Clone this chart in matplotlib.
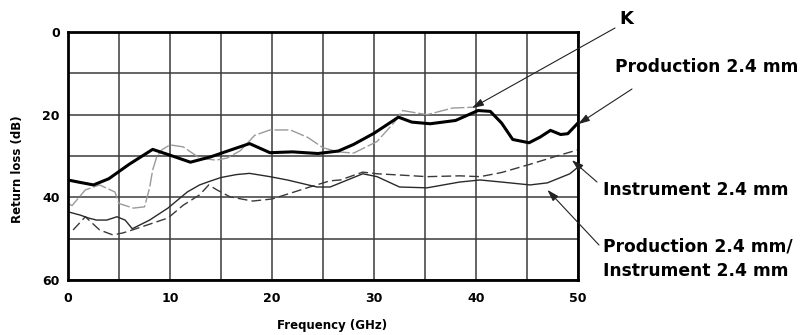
import matplotlib
matplotlib.use('Agg')
import matplotlib.pyplot as plt
from matplotlib.ticker import MultipleLocator

# --- data (return loss in dB, frequency in GHz) ---
prod_freq = [0, 1, 2.5, 4, 6, 8.3, 10, 12, 14, 16, 17.8, 19.8, 22, 24.5, 26.5,
             28, 30, 32.4, 33.7, 35.5, 38, 40.2, 41.4, 42.5, 43.6, 45.2, 46.3,
             47.3, 48.3, 49, 50]
prod_rl = [35.8, 36.3, 37, 35.5, 32, 28.4, 29.8, 31.5, 30.2, 28.5, 27, 29.2, 29,
           29.4, 28.8, 27.2, 24.5, 20.6, 21.8, 22.2, 21.4, 19, 19.2, 22, 26,
           26.8, 25.4, 23.8, 24.8, 24.6, 22]

k_freq = [0, 0.4, 1.7, 3.1, 4.6, 5, 6.4, 7.5, 8, 8.3, 8.7, 9.2, 10, 11.3, 12.9,
          14.5, 15.6, 16.9, 18.3, 19.8, 21.8, 23.5, 25, 26.5, 28, 30.3, 32,
          32.8, 35.2, 37.7, 39.7]
k_rl = [41.5, 42, 38.2, 37, 38.7, 41.5, 42.6, 42.3, 37.7, 33.4, 30.2, 28.5, 27.3,
        27.8, 30.5, 31, 30.5, 28.7, 25, 23.7, 23.7, 25.5, 28, 29, 29.3, 26.5,
        21.8, 19, 20, 18.4, 18.2]

instr_freq = [0.5, 1.7, 3.1, 4.4, 5.4, 6.3, 8, 9.8, 11.3, 12.9, 13.8, 14.6, 15.9,
              18.1, 20, 21.8, 23.7, 25.7, 26.7, 28.9, 30.3, 32.5, 35.2, 38.4,
              40.4, 42.5, 45.3, 48.2, 50]
instr_rl = [47.9, 44.7, 47.9, 49.1, 48.6, 47.9, 46.5, 45, 41.9, 39.4, 37, 38.2,
            39.9, 40.9, 40.4, 39, 37.5, 36, 35.8, 33.9, 34.3, 34.6, 35, 34.8,
            35, 34, 32, 29.8, 28.5]

pi_freq = [0, 1.2, 2, 2.8, 3.8, 4.8, 5.6, 6.3, 8, 9.8, 11.7, 12.9, 13.8, 15,
           16.5, 17.8, 19.8, 21.5, 22.7, 24.4, 25.7, 26.7, 28.9, 30.3, 32.5,
           35.2, 38.4, 40.4, 42.5, 45.3, 47, 48.2, 49.2, 50]
pi_rl = [43.5, 44.3, 45, 45.5, 45.5, 44.7, 45.5, 47.6, 45.5, 42.6, 38.7, 37,
         36.2, 35.2, 34.5, 34.2, 35, 35.8, 36.5, 37.5, 37.5, 36.5, 34.3, 35,
         37.5, 37.7, 36.3, 35.8, 36.3, 37, 36.5, 35.3, 34.3, 32.7]

W, H = 801, 335
fig = plt.figure(figsize=(W / 100, H / 100), dpi=100)
ax = fig.add_axes([68 / W, 1 - 280 / H, 510 / W, 248 / H])

ax.plot(k_freq, k_rl, color='#9a9a9a', lw=1.0, ls=(0, (10, 2)))
ax.plot(instr_freq, instr_rl, color='#3a3a3a', lw=1.0, ls=(0, (7, 3)))
ax.plot(pi_freq, pi_rl, color='#2a2a2a', lw=1.0)
ax.plot(prod_freq, prod_rl, color='black', lw=2.2)

ax.set_xlim(0, 50)
ax.set_ylim(60, 0)
ax.xaxis.set_major_locator(MultipleLocator(10))
ax.xaxis.set_minor_locator(MultipleLocator(5))
ax.yaxis.set_major_locator(MultipleLocator(20))
ax.yaxis.set_minor_locator(MultipleLocator(10))
ax.grid(which='both', color='#3a3a3a', lw=1.1)
ax.tick_params(which='both', length=0)
ax.tick_params(axis='x', pad=9, labelsize=9)
ax.tick_params(axis='y', pad=6, labelsize=9)
for lab in ax.get_xticklabels() + ax.get_yticklabels():
    lab.set_fontweight('bold')
for sp in ax.spines.values():
    sp.set_linewidth(2)

ax.set_xlabel('Frequency (GHz)', fontsize=8.5, fontweight='bold', va='center')
ax.set_ylabel('Return loss (dB)', fontsize=8.5, fontweight='bold', va='center')
ax.xaxis.set_label_coords((332 - 68) / 510, (280 - 325) / 248)
ax.yaxis.set_label_coords((18 - 68) / 510, (280 - 169) / 248)

# labels on the right with pointer lines
def px(x, y):
    return x / W, 1 - y / H

fig.text(*px(619, 19), 'K', fontsize=13, fontweight='bold', va='center')
fig.text(*px(615, 67), 'Production 2.4 mm', fontsize=12.3, fontweight='bold', va='center')
fig.text(*px(603, 190), 'Instrument 2.4 mm', fontsize=12.3, fontweight='bold', va='center')
fig.text(*px(603, 259), 'Production 2.4 mm/\nInstrument 2.4 mm', fontsize=12.3,
         fontweight='bold', va='center', linespacing=1.45)

arrow = dict(arrowstyle='-|>,head_length=0.7,head_width=0.22', color='#222222',
             lw=0.8, shrinkA=0, shrinkB=0)
pointers = [((39.6, 18.4), (615, 28)),
            ((50, 22.3), (632, 89)),
            ((49.4, 31), (597, 182)),
            ((47, 38.2), (599, 245))]
for target, start in pointers:
    ax.annotate('', xy=target, xytext=(start[0], H - start[1]),
                textcoords='figure pixels', arrowprops=arrow, annotation_clip=False)

fig.savefig('out.png', dpi=100)
